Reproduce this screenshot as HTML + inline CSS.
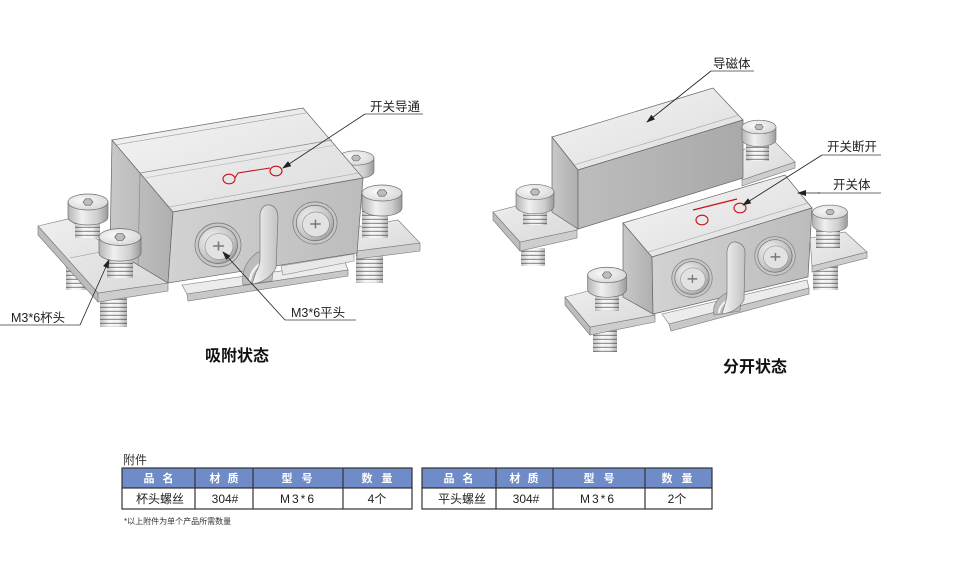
<!DOCTYPE html>
<html><head><meta charset="utf-8"><style>
html,body{margin:0;padding:0;background:#fff;}
svg{display:block;}
text{font-family:"Liberation Sans","Noto Sans CJK SC",sans-serif;}
</style></head><body>
<svg width="969" height="567" viewBox="0 0 969 567" xmlns="http://www.w3.org/2000/svg">
<defs>
<linearGradient id="gTop" x1="0" y1="0" x2="1" y2="1"><stop offset="0" stop-color="#f4f4f4"/><stop offset="1" stop-color="#dcdcdc"/></linearGradient>
<linearGradient id="gFront" x1="0" y1="0" x2="1" y2="0"><stop offset="0" stop-color="#d2d2d2"/><stop offset="1" stop-color="#bcbcbc"/></linearGradient>
<linearGradient id="gLeft" x1="0" y1="0" x2="1" y2="0"><stop offset="0" stop-color="#c8c8c8"/><stop offset="1" stop-color="#afafaf"/></linearGradient>
<linearGradient id="gMag" x1="0" y1="0" x2="1" y2="0"><stop offset="0" stop-color="#bdbdbd"/><stop offset="1" stop-color="#a9a9a9"/></linearGradient>
<linearGradient id="gPlate" x1="0" y1="0" x2="1" y2="1"><stop offset="0" stop-color="#efefef"/><stop offset="1" stop-color="#d8d8d8"/></linearGradient>
<linearGradient id="gCyl" x1="0" y1="0" x2="1" y2="0"><stop offset="0" stop-color="#b5b5b5"/><stop offset=".35" stop-color="#f0f0f0"/><stop offset=".75" stop-color="#cdcdcd"/><stop offset="1" stop-color="#9a9a9a"/></linearGradient>
<radialGradient id="gCap" cx=".4" cy=".4" r=".7"><stop offset="0" stop-color="#fafafa"/><stop offset="1" stop-color="#d4d4d4"/></radialGradient>
<radialGradient id="gPan" cx=".35" cy=".35" r=".75"><stop offset="0" stop-color="#f2f2f2"/><stop offset=".7" stop-color="#c4c4c4"/><stop offset="1" stop-color="#9c9c9c"/></radialGradient>
<linearGradient id="gThrS" x1="0" y1="0" x2="1" y2="0"><stop offset="0" stop-color="#000" stop-opacity=".22"/><stop offset=".35" stop-color="#000" stop-opacity="0"/><stop offset=".7" stop-color="#000" stop-opacity=".03"/><stop offset="1" stop-color="#000" stop-opacity=".28"/></linearGradient>
<linearGradient id="gTab" x1="0" y1="0" x2="1" y2="0"><stop offset="0" stop-color="#f6f6f6"/><stop offset="1" stop-color="#c2c2c2"/></linearGradient>
<pattern id="thr" width="4" height="4" patternUnits="userSpaceOnUse"><rect width="4" height="4" fill="#f8f8f8"/><rect y="2.8" width="4" height="1.1" fill="#8c8c8c"/></pattern>
<marker id="ar" markerWidth="9" markerHeight="6" refX="8" refY="3" orient="auto" markerUnits="userSpaceOnUse"><path d="M0,0 L9,3 L0,6 Z" fill="#222"/></marker>
<g id="cup">
 <path d="M-20,0 V15 A20,8 0 0 0 20,15 V0 Z" fill="url(#gCyl)" stroke="#6d6d6d" stroke-width=".7"/>
 <ellipse rx="20" ry="8" fill="url(#gCap)" stroke="#6d6d6d" stroke-width=".7"/>
 <polygon points="-5,0 -2.5,-3.2 2.5,-3.2 5,0 2.5,3.2 -2.5,3.2" fill="#bdbdbd" stroke="#555" stroke-width=".6"/>
</g>
<g id="pan">
 <ellipse rx="23" ry="22" fill="#c6c6c6" stroke="#777" stroke-width=".7"/>
 <ellipse rx="19.5" ry="18.5" fill="url(#gPan)" stroke="#6a6a6a" stroke-width=".7"/>
 <ellipse cx="1" cy="1.5" rx="14" ry="13" fill="#e2e2e2" stroke="#8a8a8a" stroke-width=".6"/>
 <path d="M-5,1 H6 M0.5,-3.5 V5.5" stroke="#7a7a7a" stroke-width="1.6"/>
</g>
</defs>

<!-- ============ LEFT ASSEMBLY ============ -->
<use href="#cup" transform="translate(356,158) scale(.9)"/>
<rect x="66" y="264" width="20" height="26" fill="url(#thr)"/><rect x="66" y="264" width="20" height="26" fill="url(#gThrS)"/>
<rect x="100" y="298" width="27" height="29" fill="url(#thr)"/><rect x="100" y="298" width="27" height="29" fill="url(#gThrS)"/>
<rect x="356" y="253" width="27" height="30" fill="url(#thr)"/><rect x="356" y="253" width="27" height="30" fill="url(#gThrS)"/>
<polygon points="38,226 98,293 98,302 38,235" fill="#bdbdbd" stroke="#777" stroke-width=".6"/>
<polygon points="98,293 168,283 168,291 98,302" fill="#cdcdcd" stroke="#777" stroke-width=".6"/>
<polygon points="38,226 68,219 110,248 168,283 98,293" fill="url(#gPlate)" stroke="#777" stroke-width=".6"/>
<line x1="70" y1="258" x2="110" y2="250" stroke="#999" stroke-width=".6"/>
<polygon points="357,251 420,243 420,251 357,259" fill="#cdcdcd" stroke="#777" stroke-width=".6"/>
<polygon points="350,228 398,220 420,243 357,251" fill="url(#gPlate)" stroke="#777" stroke-width=".6"/>
<rect x="75" y="214" width="25" height="24" fill="url(#thr)"/><rect x="75" y="214" width="25" height="24" fill="url(#gThrS)"/>
<use href="#cup" transform="translate(88,202)"/>
<polygon points="112,140 173,212 168,283 110,248" fill="url(#gLeft)" stroke="#666" stroke-width=".7"/>
<line x1="140" y1="173" x2="138" y2="266" stroke="#888" stroke-width=".7"/>
<polygon points="112,140 303,108 363,178 173,212" fill="url(#gTop)" stroke="#666" stroke-width=".7"/>
<line x1="115" y1="145" x2="306" y2="113" stroke="#9a9a9a" stroke-width=".6"/>
<line x1="140" y1="173" x2="332" y2="140" stroke="#8a8a8a" stroke-width=".7"/>
<line x1="144" y1="178" x2="336" y2="145" stroke="#b0b0b0" stroke-width=".6"/>
<line x1="169" y1="207" x2="359" y2="173" stroke="#a0a0a0" stroke-width=".6"/>
<polygon points="173,212 363,178 357,253 168,283" fill="url(#gFront)" stroke="#666" stroke-width=".7"/>
<polygon points="182,285 345,262 348,270 187,294" fill="#ececec" stroke="#777" stroke-width=".6"/>
<polygon points="187,294 348,270 348,276 188,301" fill="#c8c8c8" stroke="#777" stroke-width=".6"/>
<polygon points="281,266 354,254 354,261 283,275" fill="#e8e8e8" stroke="#888" stroke-width=".6"/>
<path d="M258,252 C247,260 241,270 243,285 L272,281 L274,256 Z" fill="#bcbcbc" stroke="#777" stroke-width=".6"/>
<path d="M261,263 C254,268 250,274 250,282" stroke="#f4f4f4" stroke-width="2.2" fill="none"/>
<path d="M260,214 Q262,204 270,205 Q278,207 278,218 L276,268 Q268,282 252,284 L256,272 Q260,266 260,258 Z" fill="url(#gTab)" stroke="#777" stroke-width=".7"/>
<use href="#pan" transform="translate(218,245)"/>
<use href="#pan" transform="translate(315,223) scale(.96)"/>
<ellipse cx="229" cy="179" rx="6" ry="4.8" fill="none" stroke="#c8101a" stroke-width="1.1"/>
<ellipse cx="276" cy="171" rx="6" ry="4.8" fill="none" stroke="#c8101a" stroke-width="1.1"/>
<polyline points="235,178 238,173 270,168" fill="none" stroke="#c8101a" stroke-width="1.1"/>
<rect x="107" y="252" width="26" height="26" fill="url(#thr)"/><rect x="107" y="252" width="26" height="26" fill="url(#gThrS)"/>
<use href="#cup" transform="translate(120,237) scale(1.05)"/>
<rect x="362" y="208" width="26" height="30" fill="url(#thr)"/><rect x="362" y="208" width="26" height="30" fill="url(#gThrS)"/>
<use href="#cup" transform="translate(382,193)"/>

<line x1="365" y1="114" x2="423" y2="114" stroke="#8a8a8a" stroke-width="1.3"/>
<line x1="365" y1="114" x2="283" y2="168" stroke="#222" stroke-width=".8" marker-end="url(#ar)"/>
<text x="370" y="111" font-size="12.5" fill="#222">开关导通</text>
<line x1="285" y1="320" x2="356" y2="320" stroke="#8a8a8a" stroke-width="1.3"/>
<line x1="285" y1="320" x2="223" y2="252" stroke="#222" stroke-width=".8" marker-end="url(#ar)"/>
<text x="291" y="317" font-size="12.5" fill="#222">M3*6平头</text>
<line x1="0" y1="325" x2="80" y2="325" stroke="#8a8a8a" stroke-width="1.3"/>
<line x1="80" y1="325" x2="109" y2="260" stroke="#222" stroke-width=".8" marker-end="url(#ar)"/>
<text x="11" y="322" font-size="12.5" fill="#222">M3*6杯头</text>
<text x="205" y="361" font-size="16" font-weight="bold" fill="#111">吸附状态</text>

<!-- ============ RIGHT ASSEMBLY ============ -->
<rect x="521" y="248" width="24" height="18" fill="url(#thr)"/><rect x="521" y="248" width="24" height="18" fill="url(#gThrS)"/>
<polygon points="493,212 520,242 520,251 493,220" fill="#bdbdbd" stroke="#777" stroke-width=".6"/>
<polygon points="520,242 577,230 577,238 520,251" fill="#cdcdcd" stroke="#777" stroke-width=".6"/>
<polygon points="493,212 520,205 577,197 577,230 520,242" fill="url(#gPlate)" stroke="#777" stroke-width=".6"/>
<polygon points="742,180 795,162 795,168 742,186" fill="#cdcdcd" stroke="#777" stroke-width=".6"/>
<polygon points="742,150 773,140 795,162 742,180" fill="url(#gPlate)" stroke="#777" stroke-width=".6"/>
<polygon points="552,137 578,170 578,229 552,212" fill="url(#gLeft)" stroke="#666" stroke-width=".7"/>
<polygon points="552,137 713,88 743,120 578,170" fill="url(#gTop)" stroke="#666" stroke-width=".7"/>
<line x1="574" y1="165" x2="739" y2="115" stroke="#a0a0a0" stroke-width=".6"/>
<polygon points="578,170 743,120 743,178 578,229" fill="url(#gMag)" stroke="#666" stroke-width=".7"/>
<rect x="523" y="209" width="24" height="16" fill="url(#thr)"/><rect x="523" y="209" width="24" height="16" fill="url(#gThrS)"/>
<use href="#cup" transform="translate(535,192) scale(.95)"/>
<rect x="746" y="143" width="23" height="18" fill="url(#thr)"/><rect x="746" y="143" width="23" height="18" fill="url(#gThrS)"/>
<use href="#cup" transform="translate(759,127) scale(.85)"/>

<rect x="593" y="330" width="24" height="22" fill="url(#thr)"/><rect x="593" y="330" width="24" height="22" fill="url(#gThrS)"/>
<rect x="813" y="264" width="25" height="26" fill="url(#thr)"/><rect x="813" y="264" width="25" height="26" fill="url(#gThrS)"/>
<polygon points="565,297 590,327 590,335 565,305" fill="#bdbdbd" stroke="#777" stroke-width=".6"/>
<polygon points="590,327 655,315 655,322 590,335" fill="#cdcdcd" stroke="#777" stroke-width=".6"/>
<polygon points="565,297 592,290 625,296 655,315 590,327" fill="url(#gPlate)" stroke="#777" stroke-width=".6"/>
<polygon points="812,266 867,252 867,258 812,272" fill="#cdcdcd" stroke="#777" stroke-width=".6"/>
<polygon points="810,238 845,232 867,252 812,266" fill="url(#gPlate)" stroke="#777" stroke-width=".6"/>
<polygon points="623,223 652,257 653,314 623,297" fill="url(#gLeft)" stroke="#666" stroke-width=".7"/>
<polygon points="623,223 785,175 812,208 652,257" fill="url(#gTop)" stroke="#666" stroke-width=".7"/>
<line x1="648" y1="252" x2="808" y2="203" stroke="#a0a0a0" stroke-width=".6"/>
<polygon points="652,257 812,208 808,277 653,314" fill="url(#gFront)" stroke="#666" stroke-width=".7"/>
<polygon points="662,314 807,280 809,288 669,324" fill="#ececec" stroke="#777" stroke-width=".6"/>
<polygon points="669,324 809,288 809,294 671,331" fill="#c8c8c8" stroke="#777" stroke-width=".6"/>
<path d="M726,293 C716,299 712,306 714,315 L740,311 L742,294 Z" fill="#bcbcbc" stroke="#777" stroke-width=".6"/>
<path d="M728,300 C722,304 719,308 719,313" stroke="#f4f4f4" stroke-width="2" fill="none"/>
<path d="M727,251 Q729,241 736,242 Q745,244 745,253 L744,300 Q737,312 722,314 L725,304 Q727,298 727,292 Z" fill="url(#gTab)" stroke="#777" stroke-width=".7"/>
<use href="#pan" transform="translate(692,278) scale(.88)"/>
<use href="#pan" transform="translate(775,256) scale(.88)"/>
<line x1="693" y1="210" x2="737" y2="199" stroke="#c8101a" stroke-width="1.2"/>
<ellipse cx="702" cy="220" rx="6" ry="4.8" fill="none" stroke="#c8101a" stroke-width="1.1"/>
<ellipse cx="740" cy="208" rx="6" ry="4.8" fill="none" stroke="#c8101a" stroke-width="1.1"/>
<rect x="595" y="291" width="24" height="20" fill="url(#thr)"/><rect x="595" y="291" width="24" height="20" fill="url(#gThrS)"/>
<use href="#cup" transform="translate(607,275) scale(.97)"/>
<rect x="816" y="228" width="24" height="20" fill="url(#thr)"/><rect x="816" y="228" width="24" height="20" fill="url(#gThrS)"/>
<use href="#cup" transform="translate(830,212) scale(.87)"/>

<line x1="711" y1="71" x2="754" y2="71" stroke="#8a8a8a" stroke-width="1.3"/>
<line x1="711" y1="71" x2="647" y2="122" stroke="#222" stroke-width=".8" marker-end="url(#ar)"/>
<text x="713" y="68" font-size="12.5" fill="#222">导磁体</text>
<line x1="822" y1="155" x2="881" y2="155" stroke="#8a8a8a" stroke-width="1.3"/>
<line x1="822" y1="155" x2="743" y2="205" stroke="#222" stroke-width=".8" marker-end="url(#ar)"/>
<text x="827" y="151" font-size="12.5" fill="#222">开关断开</text>
<line x1="818" y1="193" x2="881" y2="193" stroke="#8a8a8a" stroke-width="1.3"/>
<line x1="820" y1="193" x2="798" y2="193" stroke="#222" stroke-width=".8" marker-end="url(#ar)"/>
<text x="833" y="189" font-size="12.5" fill="#222">开关体</text>
<text x="723" y="372" font-size="16" font-weight="bold" fill="#111">分开状态</text>

<!-- ============ TABLES ============ -->
<text x="123" y="464" font-size="12" fill="#333">附件</text>
<g stroke="#333" stroke-width="1.2">
 <rect x="122" y="468" width="290" height="20" fill="#6f8cc9"/>
 <rect x="122" y="488" width="290" height="21" fill="#fff"/>
 <line x1="195" y1="468" x2="195" y2="509"/><line x1="253" y1="468" x2="253" y2="509"/><line x1="343" y1="468" x2="343" y2="509"/>
 <rect x="422" y="468" width="290" height="20" fill="#6f8cc9"/>
 <rect x="422" y="488" width="290" height="21" fill="#fff"/>
 <line x1="496" y1="468" x2="496" y2="509"/><line x1="553" y1="468" x2="553" y2="509"/><line x1="645" y1="468" x2="645" y2="509"/>
</g>
<g font-size="11" font-weight="bold" fill="#fff" text-anchor="middle">
 <text x="149" y="482">品</text><text x="168" y="482">名</text>
 <text x="215" y="482">材</text><text x="233" y="482">质</text>
 <text x="287" y="482">型</text><text x="307" y="482">号</text>
 <text x="367" y="482">数</text><text x="387" y="482">量</text>
 <text x="449" y="482">品</text><text x="468" y="482">名</text>
 <text x="515" y="482">材</text><text x="533" y="482">质</text>
 <text x="589" y="482">型</text><text x="609" y="482">号</text>
 <text x="667" y="482">数</text><text x="687" y="482">量</text>
</g>
<g font-size="12" fill="#222" text-anchor="middle">
 <text x="160" y="503">杯头螺丝</text>
 <text x="225" y="503">304#</text>
 <text x="298" y="503" letter-spacing="2">M3*6</text>
 <text x="377" y="503">4个</text>
 <text x="462" y="503">平头螺丝</text>
 <text x="526" y="503">304#</text>
 <text x="598" y="503" letter-spacing="2">M3*6</text>
 <text x="677" y="503">2个</text>
</g>
<text x="124" y="524" font-size="8" fill="#333">*以上附件为单个产品所需数量</text>
</svg>
</body></html>
